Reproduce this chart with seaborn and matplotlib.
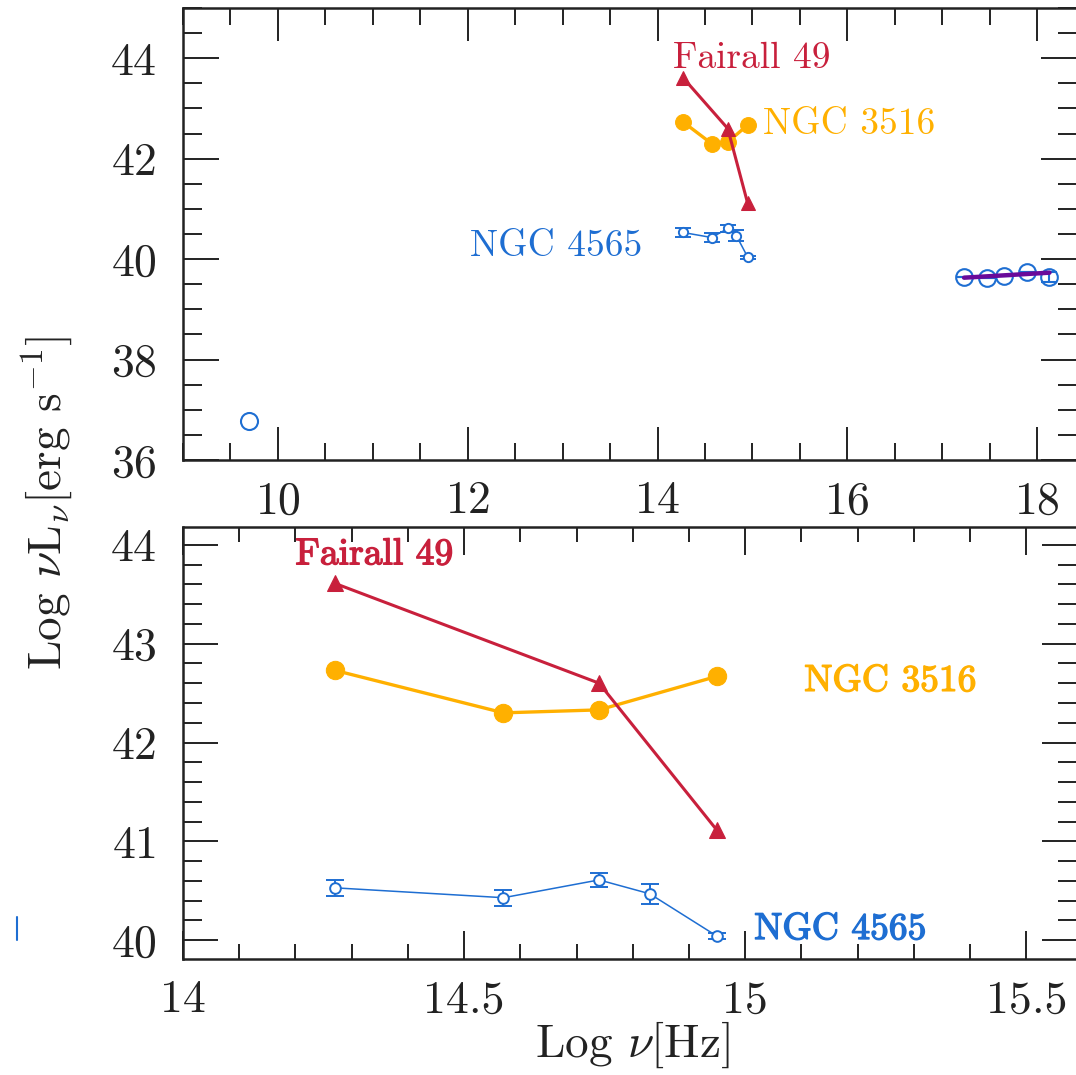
import numpy as np
import pandas as pd
import matplotlib
matplotlib.use("Agg")
import matplotlib.pyplot as plt
import matplotlib.patheffects as pe
import seaborn as sns
from matplotlib.ticker import MultipleLocator, FuncFormatter

sns.set_theme(style="ticks")
plt.rcParams.update({
    "font.family": ["cmr10", "DejaVu Serif"],
    "mathtext.fontset": "cm",
    "axes.formatter.use_mathtext": True,
    "axes.unicode_minus": False,
})

# Optical / near-IR photometry (log nu [Hz], log nuL_nu [erg/s])
fairall_logn = [14.27, 14.74, 14.95]
fairall_lum = [43.61, 42.60, 41.11]

n3516_logn = [14.27, 14.57, 14.74, 14.95]
n3516_lum = [42.73, 42.30, 42.33, 42.67]

n4565_logn = [14.27, 14.57, 14.74, 14.83, 14.95]
n4565_lum = [40.53, 40.43, 40.61, 40.47, 40.04]
n4565_err = [0.08, 0.08, 0.07, 0.10, 0.03]

# NGC 4565 radio and X-ray points
radio_logn = [9.70]
radio_lum = [36.77]

xray_logn = [17.23, 17.47, 17.65, 17.89, 18.13]
xray_lum = [39.65, 39.62, 39.67, 39.75, 39.65]
xray_err = [0.0, 0.0, 0.0, 0.0, 0.10]

# power-law fit across the X-ray band
xfit_logn = [17.23, 18.13]
xfit_lum = [39.63, 39.73]

# stray error-bar fragment left of the lower panel
stray_logn = [13.704, 13.704]
stray_lum = [40.00, 40.23]

RED = "#c8203c"
ORANGE = "#ffb000"
BLUE = "#1e6ed2"
PURPLE = "#6a0a9a"
INK = "#222222"

W, H = 1076, 1075
fig = plt.figure(figsize=(W / 100, H / 100), dpi=100)
ax1 = fig.add_axes([183 / W, 1 - 460 / H, 894 / W, 452 / H])
ax2 = fig.add_axes([183 / W, 1 - 959 / H, 894 / W, 432 / H])


def style_axes(ax, xmaj, xmin, ymaj, ymin, xlen, ylen):
    for s in ax.spines.values():
        s.set_linewidth(1.8)
        s.set_color(INK)
    ax.xaxis.set_major_locator(MultipleLocator(xmaj))
    ax.xaxis.set_minor_locator(MultipleLocator(xmin))
    ax.yaxis.set_major_locator(MultipleLocator(ymaj))
    ax.yaxis.set_minor_locator(MultipleLocator(ymin))
    ax.tick_params(axis="both", which="both", direction="in", top=True, right=True,
                   color=INK, width=1.4, labelsize=33, labelcolor=INK)
    ax.tick_params(axis="x", which="major", length=xlen[0], pad=15)
    ax.tick_params(axis="x", which="minor", length=xlen[1])
    ax.tick_params(axis="y", which="major", length=ylen[0], pad=19)
    ax.tick_params(axis="y", which="minor", length=ylen[1])
    ax.set_xlabel("")
    ax.set_ylabel("")


def draw_optical(ax, ms_scale=1.0):
    sns.lineplot(x=fairall_logn, y=fairall_lum, ax=ax, color=RED, lw=2.2,
                 marker="^", markersize=10 * ms_scale, markeredgecolor=RED,
                 sort=False, estimator=None, zorder=4)
    sns.lineplot(x=n3516_logn, y=n3516_lum, ax=ax, color=ORANGE, lw=2.4,
                 marker="o", markersize=12 * ms_scale, markeredgecolor=ORANGE,
                 sort=False, estimator=None, zorder=3)
    sns.lineplot(x=n4565_logn, y=n4565_lum, ax=ax, color=BLUE, lw=1.1,
                 sort=False, estimator=None, zorder=3)
    ax.errorbar(n4565_logn, n4565_lum, yerr=n4565_err, fmt="o", ms=7 * ms_scale,
                mfc="white", mec=BLUE, mew=1.4, ecolor=BLUE, elinewidth=1.4,
                capsize=6 * ms_scale, capthick=1.4, zorder=4)


def label(ax, x, y, s, color, heavy=False):
    effects = [pe.withStroke(linewidth=1.0, foreground=color)] if heavy else None
    ax.text(x, y, s, color=color, fontsize=27, ha="left", va="center",
            path_effects=effects)


# upper panel: full SED
draw_optical(ax1, ms_scale=0.95)
sns.scatterplot(x=radio_logn, y=radio_lum, ax=ax1, s=150, facecolor="white",
                edgecolor=BLUE, linewidth=1.5, zorder=4)
ax1.errorbar(xray_logn, xray_lum, yerr=xray_err, fmt="o", ms=12, mfc="none",
             mec=BLUE, mew=1.5, ecolor=BLUE, elinewidth=1.5, capsize=6,
             capthick=1.5, zorder=4)
sns.lineplot(x=xfit_logn, y=xfit_lum, ax=ax1, color=PURPLE, lw=3.2,
             sort=False, estimator=None, zorder=5)
ax1.set_xlim(9.0, 18.42)
ax1.set_ylim(36.0, 45.0)
style_axes(ax1, 2, 0.5, 2, 0.5, (24, 12), (26, 14))

label(ax1, 14.16, 44.0, "Fairall 49", RED)
label(ax1, 15.11, 42.68, "NGC 3516", ORANGE)
label(ax1, 12.02, 40.25, "NGC 4565", BLUE)

# lower panel: optical zoom
draw_optical(ax2, ms_scale=1.1)
ax2.plot(stray_logn, stray_lum, color=BLUE, lw=1.5, clip_on=False)
ax2.set_xlim(14.0, 15.59)
ax2.set_ylim(39.81, 44.18)
style_axes(ax2, 0.5, 0.1, 1, 0.2, (20, 11), (25, 14))
ax2.xaxis.set_major_formatter(FuncFormatter(lambda v, p: f"{v:g}"))

label(ax2, 14.20, 43.90, "Fairall 49", RED, heavy=True)
label(ax2, 15.105, 42.62, "NGC 3516", ORANGE, heavy=True)
label(ax2, 15.016, 40.11, "NGC 4565", BLUE, heavy=True)

fig.text(47 / W, 1 - 503 / H, r"Log $\nu$L$_\nu$[erg s$^{-1}$]", rotation=90,
         ha="center", va="center", fontsize=34, color=INK)
fig.text(632 / W, 1 - 1045 / H, r"Log $\nu$[Hz]", ha="center", va="center",
         fontsize=34, color=INK)

fig.savefig("out.png", dpi=100)
